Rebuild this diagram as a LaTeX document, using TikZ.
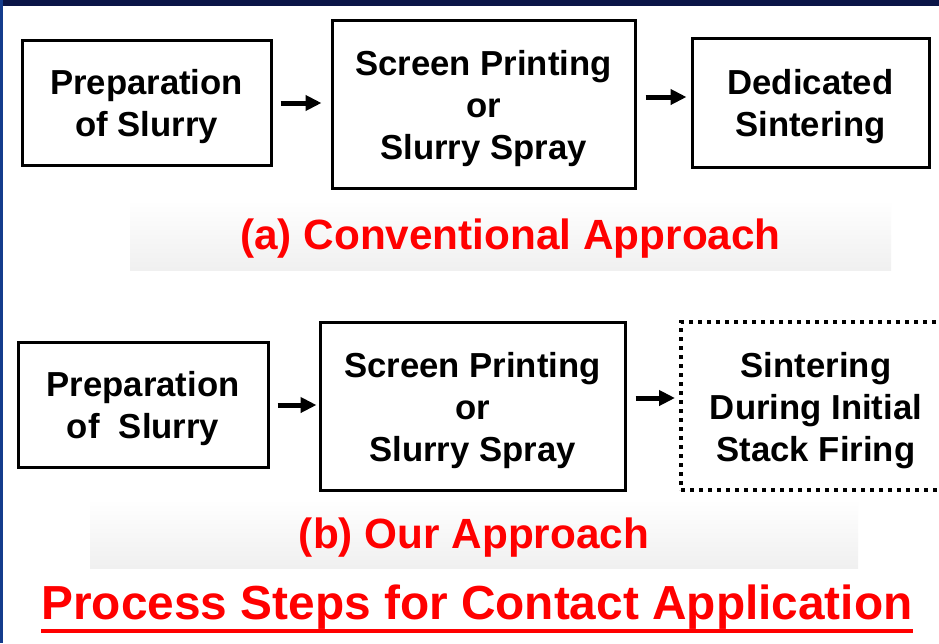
\documentclass[tikz,border=0pt]{standalone}
\usepackage{fontspec}
\setmainfont{Liberation Sans}
\usetikzlibrary{arrows.meta}
\definecolor{navyband}{HTML}{0B1547}
\definecolor{navyside}{HTML}{143C8C}
\definecolor{labelred}{HTML}{FF0000}
\tikzset{
  stepbox/.style={draw=black, line width=3pt, inner sep=0pt},
  dotbox/.style={stepbox, line width=4pt, dash pattern=on 4pt off 5pt},
  steptext/.style={inner sep=0pt, align=center, yshift=-4.5pt,
    font=\fontsize{34.7}{42}\selectfont\bfseries},
  flow/.style={line width=5pt, -{Triangle[length=16pt,width=15pt]}},
  caption/.style={text=labelred, inner sep=0pt, anchor=base,
    font=\fontsize{42.3}{48}\selectfont\bfseries},
  captionbg/.style={top color=white, bottom color=black!6, draw=none},
}
\begin{document}
\begin{tikzpicture}[x=1pt, y=-1pt]
  % canvas and frame
  \useasboundingbox (0,0) rectangle (939,643);
  \fill[white] (0,0) rectangle (939,643);
  \fill[navyband] (0,0) rectangle (939,6);
  \fill[navyside] (0,0) rectangle (2.5,643);

  % caption backgrounds
  \shade[captionbg] (130,200) rectangle (891,270);
  \shade[captionbg] (90,499) rectangle (858,568);

  % (a) conventional route
  \node[stepbox, minimum width=249pt, minimum height=125pt] (pa1) at (146.5,102.5) {};
  \node[stepbox, minimum width=303pt, minimum height=168pt] (pa2) at (483.5,104) {};
  \node[stepbox, minimum width=237pt, minimum height=129pt] (pa3) at (810.5,102.5) {};
  \node[steptext] (pa1t) at (pa1.center) {Preparation\\of Slurry};
  \node[steptext] (pa2t) at (pa2.center) {Screen Printing\\or\\Slurry Spray};
  \node[steptext] (pa3t) at (pa3.center) {Dedicated\\Sintering};
  \draw[flow, shorten <=8pt, shorten >=9pt] (pa1.east |- 0,103) -- (pa2.west |- 0,103);
  \draw[flow, shorten <=9pt, shorten >=4pt] (pa2.east |- 0,97) -- (pa3.west |- 0,97);
  \node[caption] (capa) at (510.5,249) {(a) Conventional Approach};

  % (b) our route
  \node[stepbox, minimum width=250pt, minimum height=125pt] (pb1) at (143,404.5) {};
  \node[stepbox, minimum width=305pt, minimum height=168pt] (pb2) at (472.5,406) {};
  \node[dotbox, minimum width=264pt, minimum height=168pt] (pb3) at (813,406) {};
  \node[steptext] (pb1t) at (pb1.center) {Preparation\\of\ \ Slurry};
  \node[steptext] (pb2t) at (pb2.center) {Screen Printing\\or\\Slurry Spray};
  \node[steptext] (pb3t) at (816,406) {Sintering\\During Initial\\Stack Firing};
  \draw[flow, shorten <=8pt, shorten >=2pt] (pb1.east |- 0,405) -- (pb2.west |- 0,405);
  \draw[flow, shorten <=9pt, shorten >=4pt] (pb2.east |- 0,398) -- (pb3.west |- 0,398);
  \node[caption] (capb) at (474,548) {(b) Our Approach};

  % heading
  \node[caption, font=\fontsize{47.8}{54}\selectfont\bfseries] (title) at (477,619)
    {Process Steps for Contact Application};
  \draw[labelred, line width=4pt] ([yshift=-12pt]title.base west) -- ([yshift=-12pt]title.base east);
\end{tikzpicture}
\end{document}
